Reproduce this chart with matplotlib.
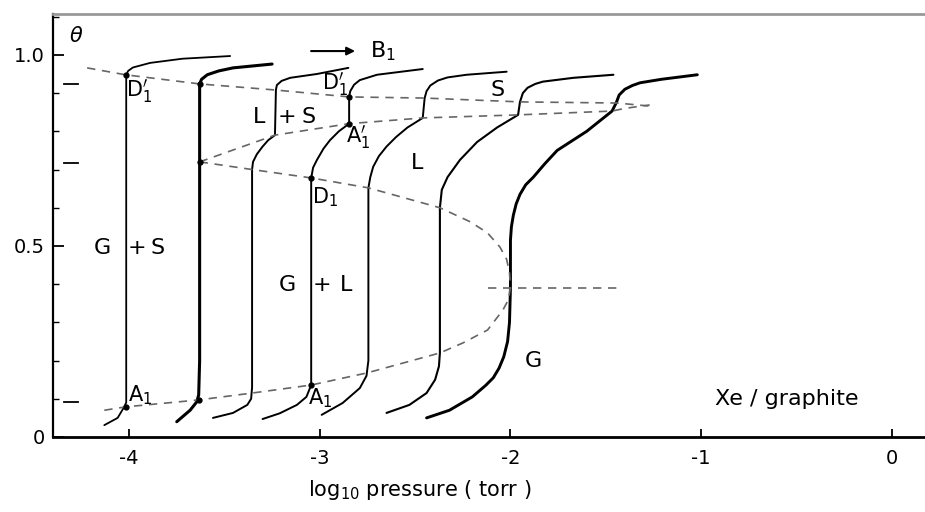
import matplotlib
matplotlib.use("Agg")
import matplotlib.pyplot as plt
from matplotlib.ticker import MultipleLocator

plt.rcParams["font.family"] = ["DejaVu Sans"]
plt.rcParams["axes.unicode_minus"] = False

# isotherms, log10 p (torr) vs coverage theta
iso1_x = [-4.13, -4.06, -4.03, -4.015, -4.015, -4.015, -4.005, -3.98, -3.89, -3.72, -3.47]
iso1_y = [0.031, 0.050, 0.075, 0.090, 0.50, 0.948, 0.958, 0.967, 0.979, 0.990, 0.997]

iso2_x = [-3.75, -3.68, -3.645, -3.635, -3.63, -3.63, -3.63, -3.62, -3.59, -3.53,
          -3.455, -3.25]
iso2_y = [0.040, 0.070, 0.092, 0.110, 0.20, 0.72, 0.924, 0.936, 0.948, 0.958,
          0.966, 0.976]

iso3_x = [-3.56, -3.455, -3.38, -3.36, -3.355, -3.355, -3.35, -3.33, -3.30, -3.27,
          -3.235, -3.23, -3.225, -3.20, -3.155, -3.015, -2.85]
iso3_y = [0.050, 0.063, 0.084, 0.100, 0.130, 0.700, 0.720, 0.740, 0.760, 0.777,
          0.790, 0.908, 0.921, 0.932, 0.940, 0.950, 0.966]

iso4_x = [-3.30, -3.21, -3.12, -3.07, -3.045, -3.045, -3.035, -3.015, -2.98, -2.946,
          -2.90, -2.846, -2.846, -2.84, -2.82, -2.79, -2.70, -2.46]
iso4_y = [0.047, 0.062, 0.084, 0.105, 0.136, 0.678, 0.705, 0.725, 0.755, 0.777,
          0.800, 0.820, 0.890, 0.905, 0.922, 0.934, 0.948, 0.963]

iso5_x = [-2.99, -2.88, -2.79, -2.755, -2.745, -2.745, -2.735, -2.72, -2.69, -2.65,
          -2.60, -2.54, -2.46, -2.45, -2.44, -2.42, -2.38, -2.33, -2.23, -2.02]
iso5_y = [0.058, 0.089, 0.128, 0.160, 0.200, 0.652, 0.680, 0.707, 0.735, 0.760,
          0.785, 0.810, 0.835, 0.887, 0.905, 0.920, 0.933, 0.941, 0.948, 0.956]

iso6_x = [-2.65, -2.53, -2.44, -2.395, -2.375, -2.37, -2.37, -2.36, -2.33, -2.265,
          -2.175, -2.07, -1.96, -1.95, -1.935, -1.91, -1.87, -1.83, -1.67, -1.46]
iso6_y = [0.063, 0.084, 0.115, 0.150, 0.185, 0.220, 0.600, 0.647, 0.680, 0.725,
          0.772, 0.810, 0.843, 0.877, 0.900, 0.914, 0.924, 0.930, 0.940, 0.948]

iso7_x = [-2.44, -2.32, -2.20, -2.13, -2.09, -2.06, -2.035, -2.015, -2.005, -2.00,
          -2.00, -1.995, -1.985, -1.97, -1.95, -1.92, -1.88, -1.82, -1.755, -1.60,
          -1.467, -1.445, -1.43, -1.40, -1.36, -1.32, -1.21, -1.02]
iso7_y = [0.050, 0.070, 0.105, 0.135, 0.155, 0.180, 0.210, 0.250, 0.300, 0.390,
          0.515, 0.550, 0.580, 0.610, 0.635, 0.660, 0.680, 0.715, 0.750, 0.800,
          0.853, 0.875, 0.895, 0.910, 0.920, 0.927, 0.936, 0.948]

isotherms = [(iso1_x, iso1_y, 1.3), (iso2_x, iso2_y, 2.2), (iso3_x, iso3_y, 1.4),
             (iso4_x, iso4_y, 1.4), (iso5_x, iso5_y, 1.4), (iso6_x, iso6_y, 1.5),
             (iso7_x, iso7_y, 2.1)]

# phase boundaries (dashed)
sol_x = [-4.22, -4.02, -3.63, -3.23, -2.846, -2.45, -1.95, -1.44, -1.27]
sol_y = [0.966, 0.948, 0.924, 0.908, 0.890, 0.887, 0.877, 0.874, 0.866]

liq_s_x = [-3.63, -3.235, -2.846, -2.46, -1.96, -1.467, -1.40, -1.27]
liq_s_y = [0.720, 0.790, 0.820, 0.835, 0.843, 0.853, 0.860, 0.869]

liq_g_x = [-3.63, -3.355, -3.045, -2.745, -2.37, -2.21, -2.12, -2.055, -2.02, -2.005, -2.00]
liq_g_y = [0.720, 0.700, 0.678, 0.652, 0.600, 0.563, 0.534, 0.497, 0.465, 0.430, 0.393]

gas_x = [-4.13, -4.015, -3.635, -3.355, -3.045, -2.75, -2.37, -2.25, -2.12, -2.04, -2.01, -2.00]
gas_y = [0.070, 0.079, 0.097, 0.115, 0.136, 0.168, 0.220, 0.246, 0.280, 0.332, 0.360, 0.393]

crit_x = [-2.12, -1.43]
crit_y = [0.39, 0.39]

# marked points on the isotherms
pts_x = [-4.015, -4.015, -3.63, -3.63, -3.635, -3.045, -3.045, -2.846, -2.846]
pts_y = [0.948, 0.079, 0.924, 0.720, 0.097, 0.678, 0.136, 0.820, 0.890]

# short level marks near the theta axis
level_marks = [0.924, 0.717, 0.092]

fig = plt.figure(figsize=(9.25, 5.12), dpi=100)
ax = fig.add_axes([53 / 925, 75 / 512, 872 / 925, 423 / 512])

for xs, ys, lw in isotherms:
    ax.plot(xs, ys, color="black", lw=lw, solid_capstyle="round", solid_joinstyle="round")

dash = dict(color="#666666", lw=1.2, dashes=(5, 4))
for xs, ys in [(sol_x, sol_y), (liq_s_x, liq_s_y), (liq_g_x, liq_g_y),
               (gas_x, gas_y), (crit_x, crit_y)]:
    ax.plot(xs, ys, **dash)

ax.plot(pts_x, pts_y, "o", color="black", ms=3.5)

for lv in level_marks:
    ax.plot([-4.34, -4.27], [lv, lv], color="black", lw=1.3)

# arrow to B1
ax.annotate("", xy=(-2.80, 1.01), xytext=(-3.06, 1.01),
            arrowprops=dict(arrowstyle="-|>", color="black", lw=1.5, mutation_scale=12))

fs = 16
sub = 15
ax.text(-4.28, 1.05, r"$\theta$", fontsize=15, ha="center", va="center")
ax.text(-2.67, 1.01, r"B$_1$", fontsize=fs, ha="center", va="center")
ax.text(-3.95, 0.905, r"D$_1^{\prime}$", fontsize=sub, ha="center", va="center")
ax.text(-2.92, 0.925, r"D$_1^{\prime}$", fontsize=sub, ha="center", va="center")
ax.text(-3.32, 0.838, "L", fontsize=fs, ha="center", va="center")
ax.text(-3.17, 0.838, "+", fontsize=fs, ha="center", va="center")
ax.text(-3.06, 0.838, "S", fontsize=fs, ha="center", va="center")
ax.text(-2.80, 0.785, r"A$_1^{\prime}$", fontsize=sub, ha="center", va="center")
ax.text(-2.49, 0.717, "L", fontsize=fs, ha="center", va="center")
ax.text(-2.07, 0.908, "S", fontsize=fs, ha="center", va="center")
ax.text(-2.97, 0.628, r"D$_1$", fontsize=sub, ha="center", va="center")
ax.text(-4.14, 0.495, "G", fontsize=fs, ha="center", va="center")
ax.text(-3.96, 0.495, "+", fontsize=fs, ha="center", va="center")
ax.text(-3.85, 0.495, "S", fontsize=fs, ha="center", va="center")
ax.text(-3.17, 0.398, "G", fontsize=fs, ha="center", va="center")
ax.text(-2.99, 0.398, "+", fontsize=fs, ha="center", va="center")
ax.text(-2.86, 0.398, "L", fontsize=fs, ha="center", va="center")
ax.text(-1.88, 0.20, "G", fontsize=fs, ha="center", va="center")
ax.text(-3.94, 0.11, r"A$_1$", fontsize=sub, ha="center", va="center")
ax.text(-3.00, 0.102, r"A$_1$", fontsize=sub, ha="center", va="center")
ax.text(-0.55, 0.10, "Xe / graphite", fontsize=16, ha="center", va="center")

ax.set_xlim(-4.399, 0.174)
ax.set_ylim(0, 1.107)
ax.set_xticks([-4, -3, -2, -1, 0])
ax.set_xticklabels(["-4", "-3", "-2", "-1", "0"])
ax.set_yticks([0, 0.5, 1.0])
ax.set_yticklabels(["0", "0.5", "1.0"])
ax.yaxis.set_minor_locator(MultipleLocator(0.1))
ax.tick_params(axis="both", which="major", direction="in", labelsize=14, width=1.3)
ax.tick_params(axis="x", which="major", length=6, pad=9)
ax.tick_params(axis="y", which="major", length=8, pad=6)
ax.tick_params(axis="y", which="minor", direction="in", length=4, width=1.0)

ax.spines["right"].set_visible(False)
ax.spines["top"].set_color("#999999")
ax.spines["top"].set_linewidth(2.0)
ax.spines["bottom"].set_linewidth(2.0)
ax.spines["left"].set_linewidth(1.6)

ax.set_xlabel(r"log$_{10}$ pressure ( torr )", fontsize=15)
ax.xaxis.set_label_coords((420 - 53) / 872, -0.097)

fig.savefig("out.png", dpi=100)
